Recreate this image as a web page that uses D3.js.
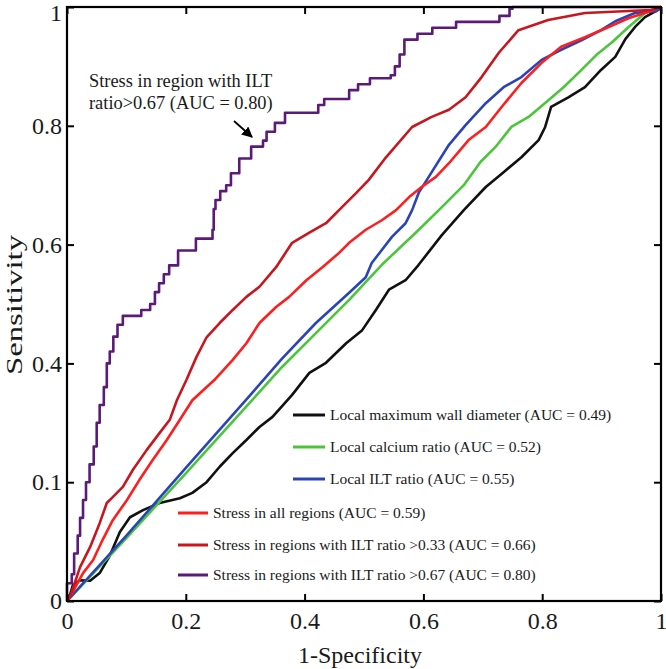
<!DOCTYPE html>
<html><head><meta charset="utf-8">
<script src="https://cdn.jsdelivr.net/npm/d3@7"></script>
<style>body{margin:0;background:#fff}svg{display:block}</style>
</head><body>
<svg id="chart" width="666" height="669"></svg>
<script>
// ---- data ----
const xTicks = [0, 0.2, 0.4, 0.6, 0.8, 1];
const xTickLabels = ["0", "0.2", "0.4", "0.6", "0.8", "1"];
const yTicks = [0, 0.2, 0.4, 0.6, 0.8, 1];
const yTickLabels = ["0", "0.1", "0.4", "0.6", "0.8", "1"];

const seriesNames = [
  "Local maximum wall diameter (AUC = 0.49)",
  "Local calcium ratio (AUC = 0.52)",
  "Local ILT ratio (AUC = 0.55)",
  "Stress in all regions (AUC = 0.59)",
  "Stress in regions with ILT ratio >0.33 (AUC = 0.66)",
  "Stress in regions with ILT ratio >0.67 (AUC = 0.80)"
];
const seriesColors = ["#111111", "#4cc43c", "#2a44b8", "#ff1e1e", "#c8161e", "#5c1a78"];

const maxWallDiameter = [[0,0],[0.005,0.01],[0.01,0.027],[0.022,0.035],[0.039,0.034],[0.055,0.047],[0.072,0.076],[0.089,0.116],[0.106,0.141],[0.128,0.153],[0.156,0.165],[0.19,0.173],[0.211,0.182],[0.235,0.2],[0.257,0.226],[0.279,0.249],[0.302,0.271],[0.324,0.293],[0.346,0.31],[0.379,0.347],[0.408,0.384],[0.436,0.401],[0.47,0.434],[0.497,0.456],[0.52,0.49],[0.542,0.524],[0.57,0.54],[0.592,0.566],[0.631,0.616],[0.668,0.658],[0.705,0.697],[0.735,0.722],[0.765,0.747],[0.794,0.776],[0.805,0.798],[0.815,0.832],[0.844,0.848],[0.872,0.865],[0.899,0.894],[0.923,0.916],[0.94,0.946],[0.956,0.966],[0.973,0.983],[0.995,0.995],[1,1]];
const calciumRatio = [[0,0],[0.1,0.106],[0.2,0.215],[0.307,0.333],[0.362,0.394],[0.419,0.451],[0.475,0.507],[0.53,0.566],[0.587,0.62],[0.626,0.658],[0.668,0.7],[0.696,0.739],[0.721,0.764],[0.748,0.798],[0.777,0.815],[0.807,0.84],[0.836,0.865],[0.864,0.892],[0.891,0.919],[0.918,0.941],[0.945,0.966],[0.973,0.99],[1,1]];
const iltRatio = [[0,0],[0.1,0.11],[0.2,0.224],[0.307,0.345],[0.362,0.408],[0.419,0.468],[0.475,0.519],[0.503,0.545],[0.513,0.569],[0.53,0.591],[0.547,0.613],[0.57,0.636],[0.581,0.658],[0.592,0.687],[0.614,0.722],[0.643,0.768],[0.671,0.801],[0.705,0.838],[0.735,0.865],[0.765,0.882],[0.799,0.911],[0.832,0.928],[0.866,0.944],[0.899,0.961],[0.923,0.976],[0.956,0.99],[0.992,0.993],[1,1]];
const stressAll = [[0,0],[0.005,0.007],[0.027,0.047],[0.044,0.069],[0.06,0.103],[0.077,0.136],[0.101,0.17],[0.122,0.204],[0.144,0.237],[0.168,0.271],[0.19,0.305],[0.211,0.338],[0.248,0.372],[0.279,0.406],[0.302,0.434],[0.324,0.468],[0.352,0.495],[0.374,0.512],[0.403,0.54],[0.43,0.562],[0.458,0.586],[0.475,0.603],[0.503,0.625],[0.53,0.641],[0.554,0.658],[0.576,0.68],[0.597,0.697],[0.621,0.714],[0.643,0.737],[0.676,0.776],[0.705,0.798],[0.732,0.832],[0.765,0.872],[0.799,0.906],[0.832,0.933],[0.872,0.949],[0.911,0.966],[0.945,0.981],[0.973,0.99],[1,1]];
const stressILT033 = [[0,0],[0.005,0.007],[0.022,0.057],[0.039,0.091],[0.055,0.131],[0.067,0.165],[0.077,0.175],[0.094,0.192],[0.111,0.221],[0.134,0.254],[0.156,0.283],[0.173,0.305],[0.185,0.338],[0.201,0.372],[0.218,0.411],[0.235,0.444],[0.257,0.468],[0.279,0.49],[0.302,0.512],[0.324,0.529],[0.352,0.562],[0.379,0.603],[0.408,0.62],[0.436,0.636],[0.463,0.663],[0.487,0.687],[0.508,0.709],[0.537,0.747],[0.581,0.798],[0.614,0.815],[0.643,0.827],[0.671,0.848],[0.698,0.882],[0.727,0.923],[0.76,0.961],[0.81,0.978],[0.872,0.99],[0.983,0.995],[1,1]];
const stressILT067 = [[0,0],[0,0.03],[0.008,0.045],[0.012,0.08],[0.018,0.11],[0.022,0.14],[0.027,0.17],[0.032,0.2],[0.038,0.23],[0.045,0.26],[0.05,0.3],[0.055,0.33],[0.062,0.36],[0.067,0.4],[0.072,0.42],[0.078,0.445],[0.085,0.465],[0.094,0.48],[0.125,0.49],[0.14,0.5],[0.148,0.52],[0.155,0.535],[0.163,0.55],[0.172,0.565],[0.187,0.59],[0.217,0.61],[0.245,0.625],[0.247,0.66],[0.25,0.675],[0.258,0.69],[0.268,0.7],[0.276,0.72],[0.29,0.745],[0.31,0.765],[0.33,0.775],[0.336,0.79],[0.35,0.805],[0.367,0.822],[0.423,0.835],[0.433,0.845],[0.475,0.86],[0.49,0.87],[0.51,0.88],[0.545,0.885],[0.552,0.9],[0.56,0.92],[0.568,0.945],[0.59,0.955],[0.615,0.965],[0.655,0.975],[0.728,0.985],[0.745,0.997],[0.75,1],[1,1]];

const annotationLines = ["Stress in region with ILT", "ratio>0.67 (AUC = 0.80)"];
const xTitle = "1-Specificity";
const yTitle = "Sensitivity";

// ---- drawing ----
const svg = d3.select("#chart");
const L = 67, R = 661, T = 7, B = 601;
const x = d3.scaleLinear().domain([0, 1]).range([L, R]);
const y = d3.scaleLinear().domain([0, 1]).range([B, T]);
const serif = "'Liberation Serif','Times New Roman',serif";

const series = [maxWallDiameter, calciumRatio, iltRatio, stressAll, stressILT033, stressILT067];
const curves = [d3.curveLinear, d3.curveLinear, d3.curveLinear, d3.curveLinear, d3.curveLinear, d3.curveStepAfter];

const plot = svg.append("g");
series.forEach((s, i) => {
  const line = d3.line().x(d => x(d[0])).y(d => y(d[1])).curve(curves[i]);
  plot.append("path").datum(s).attr("d", line)
    .attr("fill", "none").attr("stroke", seriesColors[i])
    .attr("stroke-width", 2.6).attr("stroke-linejoin", "round");
});

// axes
function styleAxis(g, labels) {
  g.select(".domain").remove();
  g.selectAll(".tick line").attr("stroke", "#000").attr("stroke-width", 2);
  g.selectAll(".tick text").attr("font-family", serif).attr("font-size", 24).attr("fill", "#1a1a1a");
  if (!labels) g.selectAll(".tick text").remove();
}
svg.append("g").attr("transform", `translate(0,${B})`)
  .call(d3.axisBottom(x).tickValues(xTicks).tickSizeInner(-7).tickSizeOuter(0).tickPadding(11)
    .tickFormat((d, i) => xTickLabels[i]))
  .call(g => styleAxis(g, true));
svg.append("g").attr("transform", `translate(0,${T})`)
  .call(d3.axisTop(x).tickValues(xTicks).tickSizeInner(-7).tickSizeOuter(0))
  .call(g => styleAxis(g, false));
svg.append("g").attr("transform", `translate(${L},0)`)
  .call(d3.axisLeft(y).tickValues(yTicks).tickSizeInner(-7).tickSizeOuter(0).tickPadding(5)
    .tickFormat((d, i) => yTickLabels[i]))
  .call(g => styleAxis(g, true))
  .call(g => g.selectAll(".tick text").filter(d => d === 1).attr("dy", "0.55em"));
svg.append("g").attr("transform", `translate(${R},0)`)
  .call(d3.axisRight(y).tickValues(yTicks).tickSizeInner(-7).tickSizeOuter(0))
  .call(g => styleAxis(g, false));

svg.append("rect").attr("x", L).attr("y", T).attr("width", R - L).attr("height", B - T)
  .attr("fill", "none").attr("stroke", "#000").attr("stroke-width", 2.2);

// titles
svg.append("text").attr("x", 360).attr("y", 663).attr("text-anchor", "middle")
  .attr("font-family", serif).attr("font-size", 24).attr("fill", "#1a1a1a").text(xTitle);
svg.append("text").attr("transform", `translate(22,305) rotate(-90)`).attr("text-anchor", "middle")
  .attr("font-family", serif).attr("font-size", 24).attr("fill", "#1a1a1a")
  .attr("textLength", 140).attr("lengthAdjust", "spacingAndGlyphs").text(yTitle);

// legend
const legendRows = [
  {i: 0, x1: 293, x2: 325, y: 415},
  {i: 1, x1: 293, x2: 325, y: 447},
  {i: 2, x1: 293, x2: 325, y: 479},
  {i: 3, x1: 178, x2: 208, y: 513},
  {i: 4, x1: 178, x2: 208, y: 545},
  {i: 5, x1: 178, x2: 208, y: 575}
];
const lg = svg.append("g");
legendRows.forEach(r => {
  lg.append("line").attr("x1", r.x1).attr("x2", r.x2).attr("y1", r.y).attr("y2", r.y)
    .attr("stroke", seriesColors[r.i]).attr("stroke-width", 3);
  lg.append("text").attr("x", r.x2 + 5).attr("y", r.y + 5)
    .attr("font-family", serif).attr("font-size", 15.5).attr("fill", "#1a1a1a").text(seriesNames[r.i]);
});

// annotation
annotationLines.forEach((t, k) => {
  svg.append("text").attr("x", 89).attr("y", 87 + k * 22)
    .attr("font-family", serif).attr("font-size", 18.4).attr("fill", "#1a1a1a").text(t);
});
svg.append("defs").append("marker").attr("id", "ah").attr("viewBox", "0 0 10 10")
  .attr("refX", 9).attr("refY", 5).attr("markerWidth", 6).attr("markerHeight", 6).attr("orient", "auto")
  .append("path").attr("d", "M0,0 L10,5 L0,10 z").attr("fill", "#000");
svg.append("line").attr("x1", 234).attr("y1", 121).attr("x2", 252).attr("y2", 137)
  .attr("stroke", "#000").attr("stroke-width", 1.8).attr("marker-end", "url(#ah)");
</script>
</body></html>
